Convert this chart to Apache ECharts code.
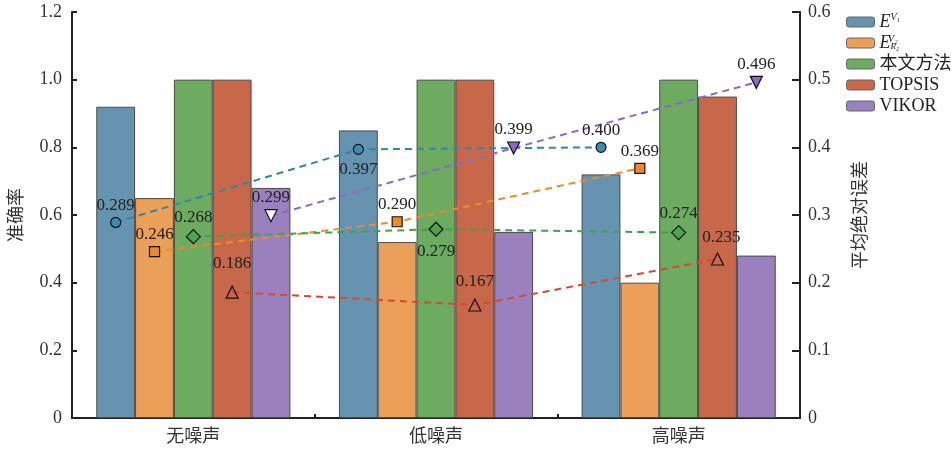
<!DOCTYPE html>
<html>
<head>
<meta charset="utf-8">
<script src="https://cdn.jsdelivr.net/npm/echarts@6/dist/echarts.min.js"></script>
<style>
  html, body { margin: 0; padding: 0; background: #fff; }
  #chart { width: 952px; height: 454px; }
</style>
</head>
<body>
<div id="chart"></div>
<script>
// Noise scenarios on the x axis
const categories = ['无噪声', '低噪声', '高噪声'];
const methods = ['E_V1', 'E_R2_V2', '本文方法', 'TOPSIS', 'VIKOR'];

// Accuracy (bars, left axis)
const accE1 = [0.92, 0.85, 0.72];
const accE2 = [0.65, 0.52, 0.40];
const accOurs = [1.00, 1.00, 1.00];
const accTopsis = [1.00, 1.00, 0.95];
const accVikor = [0.68, 0.55, 0.48];

// Mean absolute error (dashed lines, right axis)
const maeE1 = [0.289, 0.397, 0.400];
const maeE2 = [0.246, 0.290, 0.369];
const maeOurs = [0.268, 0.279, 0.274];
const maeTopsis = [0.186, 0.167, 0.235];
const maeVikor = [0.299, 0.399, 0.496];

// Axis ranges
const leftTicks = { min: 0, max: 1.2, interval: 0.2 };
const rightTicks = { min: 0, max: 0.6, interval: 0.1 };

const barColors = ['#6694b0', '#eb9f58', '#6cab60', '#c7684a', '#9a80bc'];
const lineColors = ['#2f87a8', '#ee8a2c', '#3fa34b', '#d24b2f', '#8a69c8'];
const serif = '"Liberation Serif", "Times New Roman", serif';
const cjk = '"Liberation Serif", "Noto Sans CJK SC", serif';

const accData = [accE1, accE2, accOurs, accTopsis, accVikor];
const maeData = [maeE1, maeE2, maeOurs, maeTopsis, maeVikor];

// Bars fill 80% of each category; 5 bars side by side with no gap
const catGap = 0.2;
const barW = (1 - catGap) / methods.length;
function barCenter(ci, si) { return ci + catGap / 2 + barW * (si + 0.5); }

// Marker styling per method
const markerDefs = [
  { symbol: 'circle', size: 10, fill: ['#3a8db0', '#3a8db0', '#3a8db0'] },
  { symbol: 'rect', size: 10, fill: ['#ef8a2a', '#ef8a2a', '#ef8a2a'] },
  { symbol: 'diamond', size: 14, fill: ['#4aa54c', '#4aa54c', '#4aa54c'] },
  { symbol: 'triangle', size: 12, fill: ['rgba(0,0,0,0)', 'rgba(0,0,0,0)', 'rgba(0,0,0,0)'] },
  { symbol: 'triangle', size: 12, rotate: 180, fill: ['#ffffff', '#8a69c8', '#8a69c8'] }
];
// Label placement per method and category
const labelPos = [
  [['top', 0, 3], ['bottom', 0, 0], ['top', 0, 3]],
  [['top', 0, 3], ['top', 0, 3], ['top', 0, 3]],
  [['top', 0, 3], ['bottom', 0, 0], ['top', 0, 3]],
  [['top', 0, -8], ['top', 0, -2], ['top', 4, 0]],
  [['top', 0, 3], ['top', 0, 3], ['top', 0, 3]]
];

const series = [];
methods.forEach((m, si) => {
  series.push({
    name: m,
    type: 'bar',
    xAxisIndex: 0,
    yAxisIndex: 0,
    data: accData[si],
    barGap: '0%',
    barCategoryGap: (catGap * 100) + '%',
    itemStyle: { color: barColors[si], borderColor: '#4a4a4a', borderWidth: 1 },
    z: 2
  });
});
methods.forEach((m, si) => {
  const d = markerDefs[si];
  series.push({
    name: m + '_mae',
    type: 'line',
    xAxisIndex: 1,
    yAxisIndex: 1,
    symbol: d.symbol,
    symbolSize: d.size,
    symbolRotate: d.rotate || 0,
    lineStyle: { color: lineColors[si], width: 2, type: [7, 5] },
    data: maeData[si].map((v, ci) => ({
      value: [barCenter(ci, si), v],
      itemStyle: { color: d.fill[ci], borderColor: '#111', borderWidth: 1.2 },
      label: {
        show: true,
        position: labelPos[si][ci][0],
        offset: [labelPos[si][ci][1], labelPos[si][ci][2]],
        formatter: v.toFixed(3)
      }
    })),
    label: { color: '#222', fontFamily: serif, fontSize: 17, distance: 6 },
    z: 5
  });
});

const legendNames = {
  'E_V1': '{e|E}{sup|V₁}',
  'E_R2_V2': '{e|E}{sub|R₂}{sup2|V₂}',
  '本文方法': '{t|本文方法}',
  'TOPSIS': '{t|TOPSIS}',
  'VIKOR': '{t|VIKOR}'
};

const chart = echarts.init(document.getElementById('chart'));
chart.setOption({
  animation: false,
  backgroundColor: '#fff',
  grid: { left: 72, right: 152, top: 12, bottom: 36 },
  legend: {
    data: methods,
    orient: 'vertical',
    left: 841,
    top: 7,
    itemWidth: 28,
    itemHeight: 10,
    itemGap: 1,
    itemStyle: { borderColor: '#666', borderWidth: 1 },
    formatter: n => legendNames[n],
    textStyle: {
      color: '#222', fontFamily: serif, fontSize: 18, lineHeight: 20,
      rich: {
        e: { fontFamily: serif, fontStyle: 'italic', fontSize: 18, color: '#222', lineHeight: 20 },
        sup: { fontFamily: serif, fontStyle: 'italic', fontSize: 10, color: '#222', verticalAlign: 'top', padding: [0, 0, 8, 0] },
        sub: { fontFamily: serif, fontStyle: 'italic', fontSize: 9, color: '#222', padding: [8, 0, 0, 0] },
        sup2: { fontFamily: serif, fontStyle: 'italic', fontSize: 10, color: '#222', padding: [0, 0, 8, -11] },
        t: { fontFamily: cjk, fontSize: 18, color: '#222', lineHeight: 20 }
      }
    }
  },
  xAxis: [
    {
      type: 'category',
      data: categories,
      axisLine: { lineStyle: { color: '#222', width: 2 } },
      axisTick: { show: true, inside: true, length: 4, lineStyle: { color: '#222', width: 2 } },
      axisLabel: { color: '#333', fontFamily: cjk, fontSize: 18, margin: 10 },
      splitLine: { show: false }
    },
    {
      type: 'value',
      min: 0,
      max: categories.length,
      show: false
    }
  ],
  yAxis: [
    {
      type: 'value',
      min: leftTicks.min, max: leftTicks.max, interval: leftTicks.interval,
      name: '准确率',
      nameLocation: 'middle',
      nameGap: 46,
      nameRotate: 90,
      nameTextStyle: { color: '#333', fontFamily: cjk, fontSize: 18 },
      axisLine: { show: true, lineStyle: { color: '#222', width: 2 } },
      axisTick: { show: true, inside: true, length: 5, lineStyle: { color: '#222', width: 2 } },
      axisLabel: { color: '#333', fontFamily: serif, fontSize: 18, margin: 10,
        formatter: v => v === 0 ? '0' : v.toFixed(1) },
      splitLine: { show: false }
    },
    {
      type: 'value',
      position: 'right',
      min: rightTicks.min, max: rightTicks.max, interval: rightTicks.interval,
      name: '平均绝对误差',
      nameLocation: 'middle',
      nameGap: 52,
      nameRotate: 90,
      nameTextStyle: { color: '#333', fontFamily: cjk, fontSize: 18 },
      axisLine: { show: true, lineStyle: { color: '#222', width: 2 } },
      axisTick: { show: true, inside: true, length: 8, lineStyle: { color: '#222', width: 2 } },
      axisLabel: { color: '#333', fontFamily: serif, fontSize: 18, margin: 8,
        formatter: v => v === 0 ? '0' : v.toFixed(1) },
      splitLine: { show: false }
    }
  ],
  series: series
});
</script>
</body>
</html>
